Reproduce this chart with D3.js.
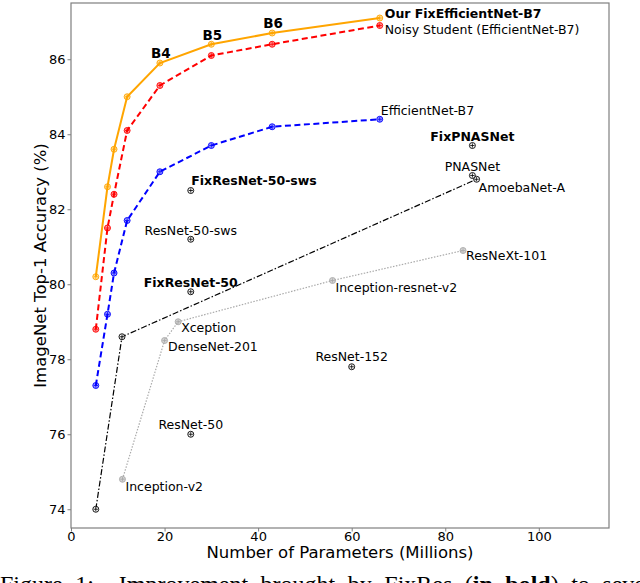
<!DOCTYPE html>
<html>
<head>
<meta charset="utf-8">
<script src="https://cdn.jsdelivr.net/npm/d3@7"></script>
<style>
  body { margin: 0; background: #fff; }
  svg { display: block; font-family: "DejaVu Sans", sans-serif; }
</style>
</head>
<body>
<svg id="chart" width="640" height="583"></svg>
<script>
// EfficientNet B0..B7 families
const effParams = [5.3, 7.8, 9.2, 12, 19, 30, 43, 66]
const fixEffAcc = [80.2, 82.6, 83.6, 85.0, 85.9, 86.4, 86.7, 87.1]
const noisyAcc = [78.8, 81.5, 82.4, 84.1, 85.3, 86.1, 86.4, 86.9]
const effAcc = [77.3, 79.2, 80.3, 81.7, 83.0, 83.7, 84.2, 84.4]

// black dash-dot line (NAS family)
const nasParams = [5.3, 10.9, 86.7]
const nasAcc = [74.0, 78.6, 82.8]

// grey dotted line
const greyNames = ['Inception-v2', 'DenseNet-201', 'Xception', 'Inception-resnet-v2', 'ResNeXt-101']
const greyParams = [11.0, 20.0, 22.9, 55.9, 83.8]
const greyAcc = [74.8, 78.5, 79.0, 80.1, 80.9]

// stand-alone points
const dotNames = ['FixResNet-50-sws', 'ResNet-50-sws', 'FixResNet-50', 'ResNet-50', 'ResNet-152', 'FixPNASNet', 'PNASNet']
const dotParams = [25.6, 25.6, 25.6, 25.6, 60, 85.8, 85.8]
const dotAcc = [82.5, 81.2, 79.8, 76.0, 77.8, 83.7, 82.9]

const xTicks = [0, 20, 40, 60, 80, 100]
const yTicks = [74, 76, 78, 80, 82, 84, 86]

// label placement: [dx, dy, anchor, bold]
const labelPos = {
    'Our FixEfficientNet-B7': [5, -5, 'start', true],
    'Noisy Student (EfficientNet-B7)': [5, 4, 'start', false],
    'EfficientNet-B7': [1, -9, 'start', false],
    'FixPNASNet': [0, -9, 'middle', true],
    'PNASNet': [0, -9, 'middle', false],
    'AmoebaNet-A': [2, 8, 'start', false],
    'ResNeXt-101': [3, 5, 'start', false],
    'Inception-resnet-v2': [3, 7, 'start', false],
    'ResNet-152': [0, -10, 'middle', false],
    'Xception': [3, 6, 'start', false],
    'DenseNet-201': [3.5, 6, 'start', false],
    'FixResNet-50': [0, -9, 'middle', true],
    'ResNet-50-sws': [0, -9, 'middle', false],
    'FixResNet-50-sws': [0.5, -10, 'start', true],
    'ResNet-50': [0, -10, 'middle', false],
    'Inception-v2': [3, 7, 'start', false]
}

// caption pieces (cut off by the page edge)
const captionParts = ['Figure 1:  Improvement brought by FixRes (', 'in bold', ') to several popular']

const margin = { top: 3, left: 71 }
const width = 538
const height = 525

const svg = d3.select('#chart')
const chart = svg.append('g').attr('transform', `translate(${margin.left}, ${margin.top})`)

const x = d3.scaleLinear().domain([0, 115]).range([0, width])
const y = d3.scaleLinear().domain([73.5, 87.5]).range([height, 0])

const zip = (xs, ys) => xs.map((d, i) => [d, ys[i]])

const line = d3.line().x(d => x(d[0])).y(d => y(d[1]))

const drawSeries = (pts, colour, strokeWidth, dash, markerFill) => {
    chart.append('path')
        .datum(pts)
        .attr('fill', 'none')
        .attr('stroke', colour)
        .attr('stroke-width', strokeWidth)
        .attr('stroke-dasharray', dash)
        .attr('d', line)
    drawMarkers(pts, colour, markerFill)
}

const drawMarkers = (pts, colour, markerFill) => {
    const g = chart.append('g')
    g.selectAll('circle').data(pts).join('circle')
        .attr('cx', d => x(d[0]))
        .attr('cy', d => y(d[1]))
        .attr('r', 3)
        .attr('fill', markerFill)
        .attr('stroke', colour)
        .attr('stroke-width', 0.9)
    g.selectAll('path').data(pts).join('path')
        .attr('transform', d => `translate(${x(d[0])}, ${y(d[1])})`)
        .attr('d', 'M-2.2,0H2.2M0,-2.2V2.2')
        .attr('stroke', colour)
        .attr('stroke-width', 0.8)
}

const addLabel = (name, px, acc, size = 12.5) => {
    const [dx, dy, anchor, bold] = labelPos[name]
    chart.append('text')
        .attr('x', x(px) + dx)
        .attr('y', y(acc) + dy)
        .attr('dy', '0.36em')
        .attr('text-anchor', anchor)
        .attr('font-size', size)
        .attr('font-weight', bold ? 'bold' : 'normal')
        .attr('fill', '#000')
        .text(name)
}

// axes
const spineColour = '#7f7f7f'
chart.append('rect')
    .attr('width', width).attr('height', height)
    .attr('fill', 'none').attr('stroke', spineColour).attr('stroke-width', 1.2)

chart.append('g')
    .attr('transform', `translate(0, ${height})`)
    .call(d3.axisBottom(x).tickValues(xTicks).tickSize(3.5).tickPadding(0).tickFormat(d3.format('d')))
    .call(g => {
        g.select('.domain').remove()
        g.selectAll('line').attr('stroke', spineColour)
        g.selectAll('text').attr('font-size', 13).attr('fill', '#000').attr('font-family', 'DejaVu Sans')
    })

chart.append('g')
    .call(d3.axisLeft(y).tickValues(yTicks).tickSize(3.5).tickPadding(2).tickFormat(d3.format('d')))
    .call(g => {
        g.select('.domain').remove()
        g.selectAll('line').attr('stroke', spineColour)
        g.selectAll('text').attr('font-size', 13).attr('fill', '#000').attr('font-family', 'DejaVu Sans')
    })

chart.append('text')
    .attr('x', width / 2)
    .attr('y', 558 - margin.top)
    .attr('text-anchor', 'middle')
    .attr('font-size', 16.5)
    .text('Number of Parameters (Millions)')

chart.append('text')
    .attr('transform', `translate(${40 - margin.left}, ${height / 2}) rotate(-90)`)
    .attr('dy', '0.36em')
    .attr('text-anchor', 'middle')
    .attr('font-size', 16.5)
    .text('ImageNet Top-1 Accuracy (%)')

// series
drawSeries(zip(greyParams, greyAcc), '#aaaaaa', 1.2, '1.5,1.5', 'rgba(170,170,170,0.5)')
drawSeries(zip(nasParams, nasAcc), '#000', 1.2, '6,2,1.5,2', 'rgba(255,255,255,0.6)')
drawSeries(zip(effParams, effAcc), '#0000ff', 2, '6,3.5', 'rgba(0,0,255,0.4)')
drawSeries(zip(effParams, noisyAcc), '#ff0000', 2, '6,3.5', 'rgba(255,0,0,0.4)')
drawSeries(zip(effParams, fixEffAcc), '#ffa500', 2, null, 'rgba(255,165,0,0.35)')
drawMarkers(zip(dotParams, dotAcc), '#000', 'rgba(255,255,255,0.6)')

// labels
const last = effParams.length - 1
addLabel('Our FixEfficientNet-B7', effParams[last], fixEffAcc[last])
addLabel('Noisy Student (EfficientNet-B7)', effParams[last], noisyAcc[last])
addLabel('EfficientNet-B7', effParams[last], effAcc[last])
addLabel('AmoebaNet-A', nasParams[2], nasAcc[2])
greyNames.forEach((n, i) => addLabel(n, greyParams[i], greyAcc[i]))
dotNames.forEach((n, i) => addLabel(n, dotParams[i], dotAcc[i]))

// B4..B6 tags
;['B4', 'B5', 'B6'].forEach((b, i) => {
    const k = i + 4
    chart.append('text')
        .attr('x', x(effParams[k]) + 1)
        .attr('y', y(fixEffAcc[k]) - 9.5)
        .attr('dy', '0.36em')
        .attr('text-anchor', 'middle')
        .attr('font-size', 13.5)
        .attr('font-weight', 'bold')
        .text(b)
})

// caption, only its top shows
const caption = svg.append('text')
    .attr('x', 0)
    .attr('y', 592)
    .attr('font-family', '"Liberation Serif", serif')
    .attr('font-size', 24)
    .attr('word-spacing', 6.5)
    .attr('xml:space', 'preserve')
captionParts.forEach((p, i) => {
    caption.append('tspan')
        .attr('font-weight', i === 1 ? 'bold' : 'normal')
        .text(p)
})
</script>
</body>
</html>
